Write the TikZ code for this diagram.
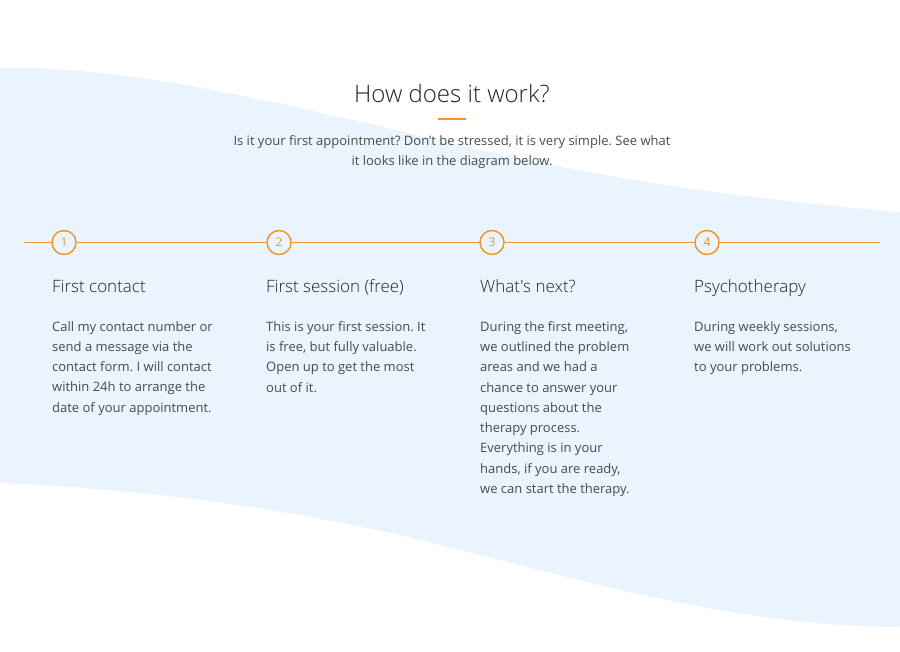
\documentclass[tikz,border=0pt]{standalone}
\usepackage{fontspec}
\setmainfont{Open Sans}
\newfontfamily\thinfont{Open Sans Light}
\usetikzlibrary{positioning}
\definecolor{wave}{HTML}{EAF4FE}
\definecolor{accent}{HTML}{F7931E}
\definecolor{bodytext}{HTML}{4A4A4A}
\definecolor{headtext}{HTML}{222222}
\frenchspacing

\begin{document}
\begin{tikzpicture}[x=1pt,y=-1pt,
    stepnum/.style={circle,draw=accent,line width=1.4pt,fill=wave,text=accent,
      minimum size=24pt,inner sep=0pt,font=\fontsize{12}{14}\selectfont},
    stephead/.style={anchor=base west,inner sep=0pt,text=headtext,
      font=\thinfont\fontsize{17}{20}\selectfont},
    stepbody/.style={anchor=north west,inner sep=0pt,align=left,text=bodytext,
      font=\fontsize{13}{20.3}\selectfont}]
    \useasboundingbox (0,0) rectangle (900,652);
    % wavy background band
    \fill[wave] (0,68) .. controls (120,66) and (250,95) .. (450,143)
      .. controls (620,183) and (760,200) .. (900,212) -- (900,627)
      .. controls (780,627) and (650,600) .. (500,560)
      .. controls (350,520) and (200,492) .. (0,483) -- cycle;
    % heading
    \node[anchor=base,inner sep=0pt,text=headtext,font=\thinfont\fontsize{24}{28}\selectfont]
      (title) at (452,103) {How does it work?};
    \fill[accent] (438,118.5) rectangle (466,120);
    \node[anchor=north,inner sep=0pt,align=center,text=bodytext,font=\fontsize{13}{20.3}\selectfont]
      (intro) at (452,135) {Is it your first appointment? Don't be stressed, it is very simple. See what\\
      it looks like in the diagram below.};
    % timeline
    \coordinate (tlstart) at (24,242.5);
    \coordinate (tlend) at (880,242.5);
    \node[stepnum] (s1) at (64,242.5) {1};
    \node[stepnum] (s2) at (279,242.5) {2};
    \node[stepnum] (s3) at (492,242.5) {3};
    \node[stepnum] (s4) at (707,242.5) {4};
    \draw[accent,line width=1.2pt] (tlstart) -- (s1) (s1) -- (s2) (s2) -- (s3) (s3) -- (s4) (s4) -- (tlend);
    % steps
    \node[stephead] (h1) at (52,293) {First contact};
    \node[stephead] (h2) at (266,293) {First session (free)};
    \node[stephead] (h3) at (480,293) {What's next?};
    \node[stephead] (h4) at (694,293) {Psychotherapy};
    \node[stepbody] (b1) at (52,321) {Call my contact number or\\ send a message via the\\
      contact form. I will contact\\ within 24h to arrange the\\ date of your appointment.};
    \node[stepbody] (b2) at (266,321) {This is your first session. It\\ is free, but fully valuable.\\
      Open up to get the most\\ out of it.};
    \node[stepbody] (b3) at (480,321) {During the first meeting,\\ we outlined the problem\\
      areas and we had a\\ chance to answer your\\ questions about the\\ therapy process.\\
      Everything is in your\\ hands, if you are ready,\\ we can start the therapy.};
    \node[stepbody] (b4) at (694,321) {During weekly sessions,\\ we will work out solutions\\
      to your problems.};
  \end{tikzpicture}
\end{document}
